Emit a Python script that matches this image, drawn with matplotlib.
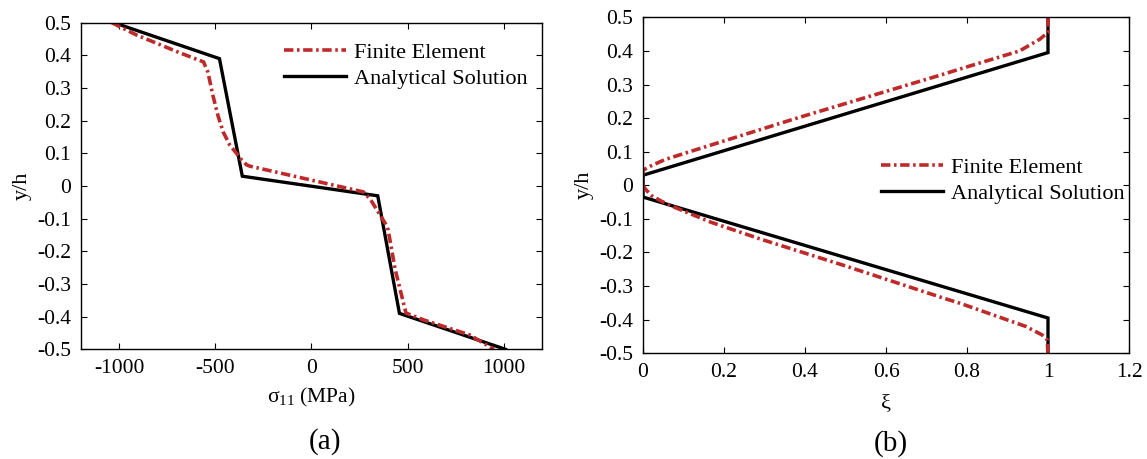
import matplotlib
matplotlib.use('Agg')
import matplotlib.pyplot as plt
from matplotlib.ticker import FuncFormatter

plt.rcParams['font.family'] = ['Liberation Serif', 'DejaVu Serif']
plt.rcParams['mathtext.fontset'] = 'custom'
plt.rcParams['mathtext.rm'] = 'Liberation Serif'
plt.rcParams['mathtext.default'] = 'regular'
plt.rcParams['axes.unicode_minus'] = False

RED = '#BE2A2A'

# (a) stress through the thickness
sig_fe = [-1039, -913, -686, -562, -539, -513, -487, -460, -425, -390, -364, -338,
          -322, 270, 307, 390, 399, 436, 492, 584, 824, 950]
y_fe_a = [0.50, 0.463, 0.408, 0.38, 0.348, 0.277, 0.216, 0.166, 0.125, 0.10, 0.08,
          0.065, 0.061, -0.018, -0.041, -0.12, -0.134, -0.256, -0.389, -0.41, -0.456, -0.50]
sig_an = [-1028, -479, -360, 345, 458, 1010]
y_an_a = [0.5, 0.39, 0.03, -0.03, -0.39, -0.5]

# (b) volume fraction through the thickness
xi_fe = [1.0, 1.0, 0.98, 0.93, 0.785, 0.74, 0.56, 0.38, 0.2, 0.11, 0.053, 0.02, 0.0, 0.0,
         0.005, 0.02, 0.045, 0.077, 0.168, 0.29, 0.5, 0.74, 0.785, 0.945, 0.985, 0.998, 1.0]
y_fe_b = [0.5, 0.455, 0.435, 0.40, 0.347, 0.33, 0.265, 0.2, 0.132, 0.098, 0.076, 0.058,
          0.045, 0.0, -0.01, -0.03, -0.047, -0.065, -0.11, -0.16, -0.24, -0.335, -0.352,
          -0.42, -0.445, -0.46, -0.5]
xi_an = [1, 1, 0, 0, 1, 1]
y_an_b = [0.5, 0.395, 0.03, -0.035, -0.395, -0.5]

labels = ['Finite Element', 'Analytical Solution']
yticks = [-0.5, -0.4, -0.3, -0.2, -0.1, 0, 0.1, 0.2, 0.3, 0.4, 0.5]

fig = plt.figure(figsize=(11.47, 4.59), dpi=100)
ax1 = fig.add_axes([0.0706, 0.239, 0.4019, 0.7115])
ax2 = fig.add_axes([0.5606, 0.2303, 0.4237, 0.732])

fmt = FuncFormatter(lambda v, p: f'{v:g}')
fe_style = dict(color=RED, lw=2.6, dashes=(2.6, 1.0, 0.7, 1.0))
an_style = dict(color='black', lw=2.4, solid_joinstyle='miter')


def style(ax):
    for s in ax.spines.values():
        s.set_linewidth(1.0)
    ax.tick_params(direction='in', top=True, right=True, length=4, width=0.8,
                   labelsize=15.5, pad=7)
    ax.set_ylim(-0.5, 0.5)
    ax.set_yticks(yticks)
    ax.xaxis.set_major_formatter(fmt)
    ax.yaxis.set_major_formatter(fmt)


an1, = ax1.plot(sig_an, y_an_a, **an_style)
fe1, = ax1.plot(sig_fe, y_fe_a, **fe_style)
style(ax1)
ax1.set_xlim(-1200, 1200)
ax1.set_xticks([-1000, -500, 0, 500, 1000])
ax1.set_xlabel('σ$_{11}$ (MPa)', fontsize=15.5, labelpad=6)
ax1.set_ylabel('y/h', fontsize=16, labelpad=4)
ax1.legend([fe1, an1], labels, loc='center left', bbox_to_anchor=(0.44, 0.868),
           frameon=False, fontsize=16, handlelength=2.8, handletextpad=0.35,
           labelspacing=0.25, borderpad=0, borderaxespad=0)

an2, = ax2.plot(xi_an, y_an_b, **an_style)
fe2, = ax2.plot(xi_fe, y_fe_b, **fe_style)
style(ax2)
ax2.set_xlim(0, 1.2)
ax2.set_xticks([0, 0.2, 0.4, 0.6, 0.8, 1.0, 1.2])
ax2.set_xlabel('ξ', fontsize=16, labelpad=9)
ax2.set_ylabel('y/h', fontsize=16, labelpad=4)
ax2.legend([fe2, an2], labels, loc='center left', bbox_to_anchor=(0.49, 0.513),
           frameon=False, fontsize=16, handlelength=2.8, handletextpad=0.35,
           labelspacing=0.25, borderpad=0, borderaxespad=0)

fig.text(325 / 1147, 1 - 442 / 459, '(a)', fontsize=21, ha='center', va='center')
fig.text(891 / 1147, 1 - 444 / 459, '(b)', fontsize=21, ha='center', va='center')

fig.savefig('out.png', dpi=100)
